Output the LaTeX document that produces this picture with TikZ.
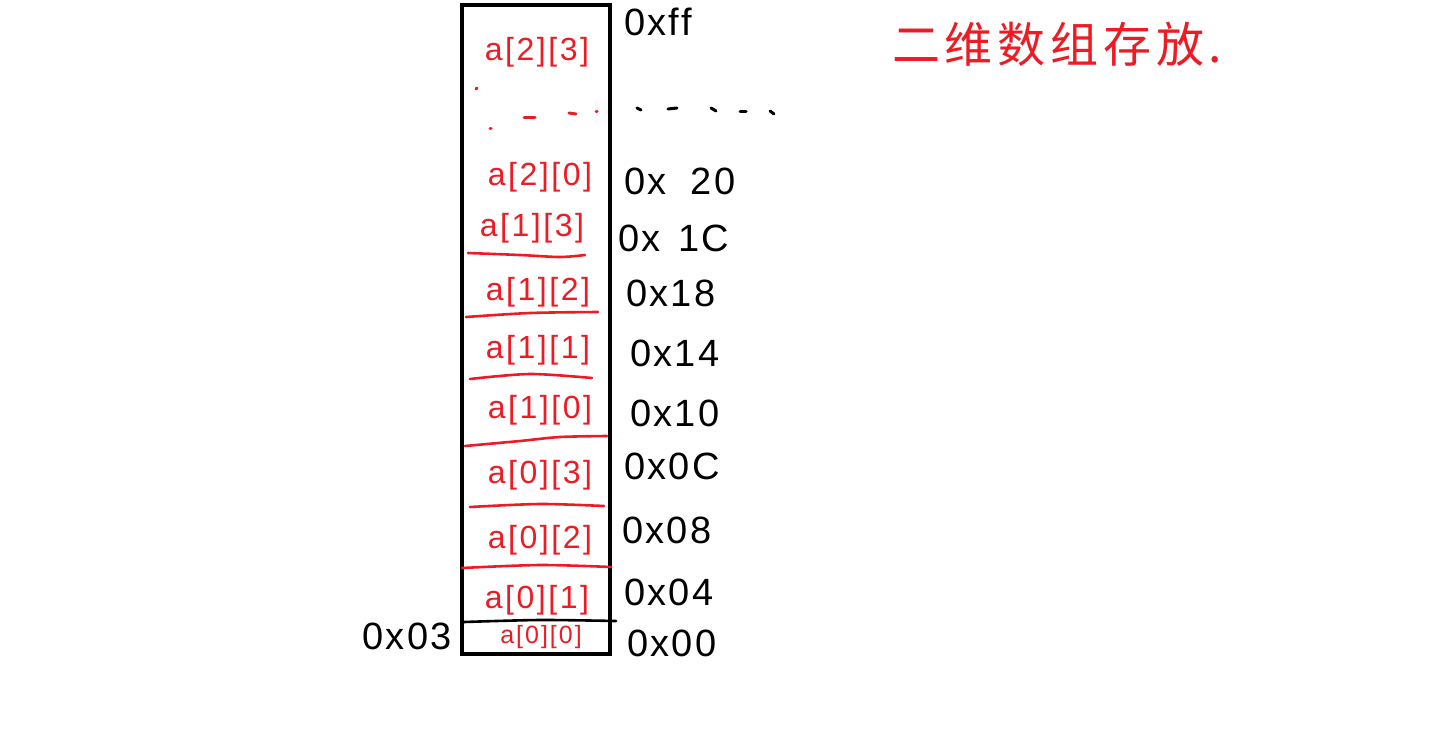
\documentclass[tikz,border=0pt]{standalone}
\usepackage{fontspec}
\setmainfont{Liberation Sans}
\newfontfamily\cjk{Noto Sans CJK SC}
\definecolor{pred}{RGB}{237,28,36}
\begin{document}
\begin{tikzpicture}[x=1pt,y=-1pt,
  cell/.style={text=pred,font=\fontsize{32}{32}\selectfont\addfontfeatures{LetterSpace=8},inner sep=0pt},
  addr/.style={text=black,font=\fontsize{38}{38}\selectfont\addfontfeatures{LetterSpace=6},inner sep=0pt,anchor=west},
  sep/.style={draw=pred,line width=2.6pt,line cap=round},
  dot/.style={line width=3pt,line cap=round}]
\useasboundingbox (0,0) rectangle (1434,737);
% memory column
\draw[line width=4pt] (462,5) rectangle (610,654);
% cell labels
\node[cell] (c23) at (537,52) {a[2][3]};
\node[cell] (c20) at (540,177) {a[2][0]};
\node[cell] (c13) at (532,228) {a[1][3]};
\node[cell] (c12) at (538,292) {a[1][2]};
\node[cell] (c11) at (538,350) {a[1][1]};
\node[cell] (c10) at (540,410) {a[1][0]};
\node[cell] (c03) at (540,475) {a[0][3]};
\node[cell] (c02) at (540,540) {a[0][2]};
\node[cell] (c01) at (537,600) {a[0][1]};
\node[cell,font=\fontsize{25}{25}\selectfont\addfontfeatures{LetterSpace=8}] (c00) at (541,637) {a[0][0]};
% red dots inside
\draw[pred,dot] (476,89) -- (477,88);
\draw[pred,dot] (490,128) -- (491,128);
\draw[pred,dot] (524,117) -- (535,117);
\draw[pred,dot] (569,113) -- (576,114);
\draw[pred,dot] (596,111) -- (597,111);
% separators
\draw[sep] plot[smooth] coordinates {(468,253) (520,255) (560,257) (585,255)};
\draw[sep] plot[smooth] coordinates {(466,317) (530,313) (598,312)};
\draw[sep] plot[smooth] coordinates {(470,379) (530,374) (592,378)};
\draw[sep] plot[smooth] coordinates {(465,446) (520,441) (560,437) (607,436)};
\draw[sep] plot[smooth] coordinates {(470,507) (540,504) (604,506)};
\draw[sep] plot[smooth] coordinates {(462,568) (540,565) (611,567)};
\draw[line width=2.6pt,line cap=round] plot[smooth] coordinates {(464,622) (540,620) (616,621)};
% addresses
\node[addr] (aff) at (624,22) {0xff};
\node[addr] (a20) at (624,181) {0x\hspace{24pt}20};
\node[addr] (a1c) at (618,238) {0x\hspace{18pt}1C};
\node[addr] (a18) at (626,293) {0x18};
\node[addr] (a14) at (630,353) {0x14};
\node[addr] (a10) at (630,413) {0x10};
\node[addr] (a0c) at (624,466) {0x0C};
\node[addr] (a08) at (622,530) {0x08};
\node[addr] (a04) at (624,592) {0x04};
\node[addr] (a00) at (627,643) {0x00};
\node[addr,anchor=east] (a03) at (452,636) {0x03};
% black dots
\draw[dot] (637,108) -- (641,110);
\draw[dot] (668,109) -- (677,108);
\draw[dot] (711,108) -- (716,111);
\draw[dot] (740,111) -- (746,111);
\draw[dot] (770,111) -- (774,114);
% title
\node[text=pred,font=\cjk\fontsize{48}{48}\selectfont\addfontfeatures{LetterSpace=10},inner sep=0pt,anchor=west] (title) at (892,44) {二维数组存放.};
\end{tikzpicture}
\end{document}
